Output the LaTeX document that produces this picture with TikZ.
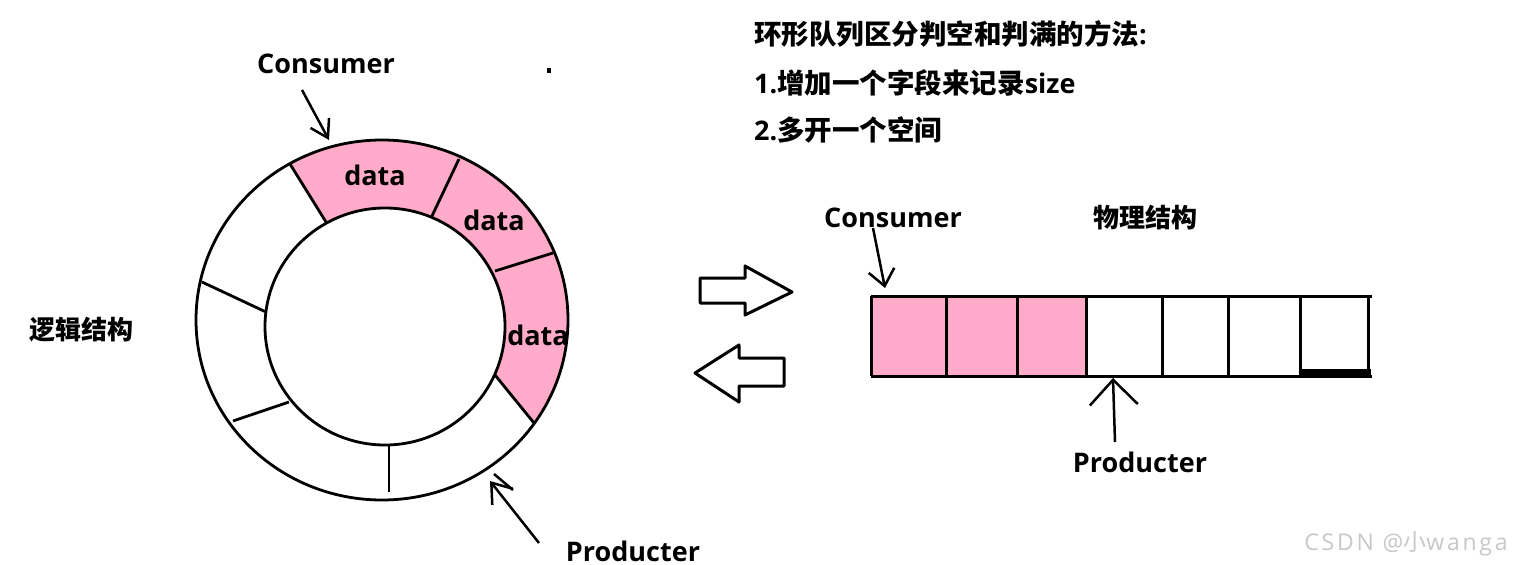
\documentclass[tikz,border=0pt]{standalone}
\usepackage{fontspec}
\setmainfont{Open Sans}
\newfontfamily\cjk{Noto Sans CJK SC}
\newfontfamily\wmfont{Open Sans}[LetterSpace=12]
\usetikzlibrary{arrows.meta}
\definecolor{pinkc}{RGB}{255,171,201}
\definecolor{wmark}{RGB}{200,200,200}
\newcommand{\bigcjk}[1]{{\fontsize{27.5}{30}\selectfont\cjk\bfseries #1}}
\begin{document}
\begin{tikzpicture}[x=1pt,y=-1pt,line join=round,
  ring/.style={line width=2.8pt},
  cell/.style={line width=3pt},
  ptr/.style={line width=2.5pt},
  lbl/.style={inner sep=0pt,font=\fontsize{27}{30}\selectfont\bfseries},
  cjklbl/.style={inner sep=0pt,font=\fontsize{26}{30}\selectfont\cjk\bfseries},
  wm/.style={inner sep=0pt,font=\fontsize{23}{28}\selectfont\wmfont,text=wmark}]
\useasboundingbox (0,0) rectangle (1521,565);
\fill[white] (0,0) rectangle (1521,565);

% ---- ring (logical structure)
\coordinate (oc) at (382,320);
\coordinate (ic) at (385,326.5);
\fill[pinkc] (290,164) arc[start angle=-119.7,end angle=35,x radius=186,y radius=180]
  -- (495,375) arc[start angle=24,end angle=-119.5,x radius=120,y radius=118.5] -- cycle;
\draw[ring] (oc) ellipse[x radius=186,y radius=180];
\draw[ring] (ic) ellipse[x radius=120,y radius=118.5];
\draw[ring] (290,164) -- (326,222);
\draw[ring] (459,159) -- (432,216);
\draw[ring] (553,253) -- (495,271);
\draw[ring] (495,375) -- (534,423);
\draw[ring] (389,446) -- (389,492);
\draw[ring] (289,402) -- (233,421);
\draw[ring] (266,312) -- (202,282);

\node[lbl,anchor=base] (d1) at (375,185) {data};
\node[lbl,anchor=base] (d2) at (494,230) {data};
\node[lbl,anchor=base] (d3) at (538,345) {data};

\node[lbl,anchor=base] (cons1) at (326,73) {Consumer};
\fill (547,68) rectangle (551,73);
\coordinate (c1t) at (302,90);
\coordinate (c1h) at (329,140);
\draw[ptr,-{Straight Barb[length=17pt,width=21pt]}] (c1t) -- (c1h);

\node[cjklbl] (logic) at (81,330) {逻辑结构};

\node[lbl,anchor=base] (prod1) at (633,561) {Producter};
\coordinate (p1t) at (539,543);
\coordinate (p1h) at (490,481);
\draw[ptr,-{Straight Barb[length=18pt,width=26pt]}] (p1t) -- (p1h);
\draw[ptr] (494,474) -- (513,490);

% ---- hollow arrows
\draw[cell] (700,278) -- (745,278) -- (745,266) -- (792,292) -- (745,315) -- (745,303) -- (700,303) -- cycle;
\draw[cell] (695,373) -- (739,345) -- (739,358) -- (784,358) -- (784,386) -- (739,386) -- (739,402) -- cycle;

% ---- array (physical structure)
\fill[pinkc] (871,296) rectangle (1086,376);
\draw[cell] (871,296) -- (1372,296);
\draw[cell] (871,376) -- (1372,376);
\draw[cell] (871,296) -- (871,376);
\foreach \xx in {946,1017,1086,1162,1228,1300,1368}
  \draw[cell] (\xx,296) -- (\xx,376);
\fill (1300,369) rectangle (1371,378);

\node[lbl,anchor=base] (cons2) at (893,227) {Consumer};
\coordinate (c2t) at (873,228);
\coordinate (c2h) at (885,288);
\draw[ptr,-{Straight Barb[length=16pt,width=26pt]}] (c2t) -- (c2h);

\node[cjklbl] (phys) at (1145,218) {物理结构};

\node[lbl,anchor=base] (prod2) at (1140,472) {Producter};
\coordinate (p2t) at (1115,442);
\coordinate (p2h) at (1113,378);
\draw[ptr,-{Straight Barb[length=25pt,width=48pt]}] (p2t) -- (p2h);

% ---- notes
\node[lbl,anchor=west] (t1) at (754,34) {\bigcjk{环形队列区分判空和判满的方法}:};
\node[lbl,anchor=west] (t2) at (754,83) {1.\bigcjk{增加一个字段来记录}size};
\node[lbl,anchor=west] (t3) at (754,130) {2.\bigcjk{多开一个空间}};

\node[wm,anchor=base] (wmk) at (1406,550) {CSDN @{\cjk 小}wanga};
\end{tikzpicture}
\end{document}
